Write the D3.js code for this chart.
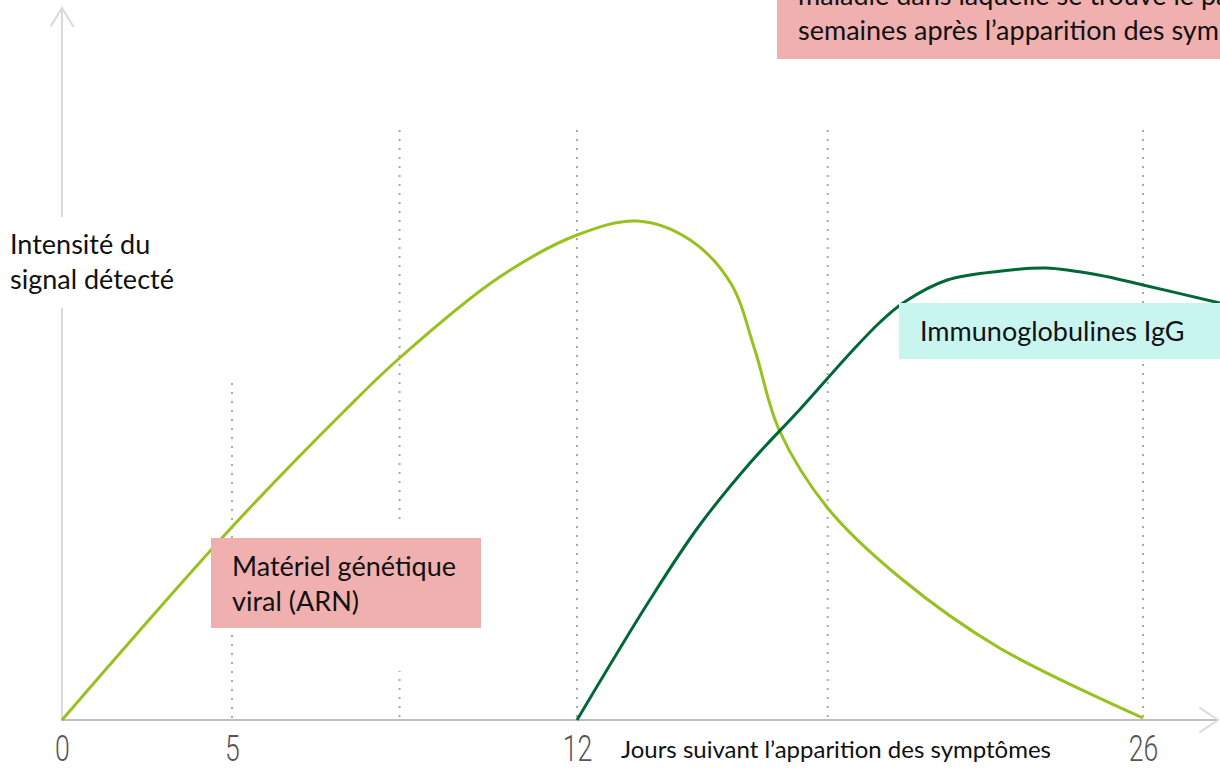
<!DOCTYPE html>
<html>
<head>
<meta charset="utf-8">
<script src="https://cdn.jsdelivr.net/npm/d3@7"></script>
<style>
  html, body { margin: 0; padding: 0; background: #fff; }
  svg { display: block; }
  .lbl { font-family: Lato, "Open Sans", sans-serif; font-size: 27px; fill: #111; }
  .lbl.small { font-size: 24px; }
</style>
</head>
<body>
<svg id="chart" width="1220" height="770"></svg>
<script>
// days after symptoms -> signal intensity (0..100)
const arnDays = [0, 5, 7.3, 8.4, 10.4, 12, 13.5, 14.8, 15.8, 16.4, 17, 18.2, 20, 22.45, 26];
const arnValues = [0, 38.6, 62, 72.4, 88.4, 97, 99.8, 96, 87.4, 74, 58, 42.4, 28.4, 14.4, 0.4];

const iggDays = [12, 13.8, 15, 16.3, 17.5, 18.76, 19.5, 20.1, 21.16, 22.5, 23.6, 24.9, 26, 27.9];
const iggValues = [0, 24, 38.6, 51.6, 62, 73.4, 79.6, 83.6, 88, 89.8, 90.4, 89, 87, 83.4];

const tickDays = [0, 5, 12, 26];
const gridDays = [5, 8.4, 12, 18.2, 26];
const gridTop = [67.4, 118, 118, 118, 118];

const svg = d3.select("#chart");

// the day axis is not uniform in the original, so use a piecewise scale
const x = d3.scaleLinear().domain([0, 5, 12, 26]).range([62, 232, 577, 1143]);
const y = d3.scaleLinear().domain([0, 100]).range([720, 220]);

// dotted guides
svg.selectAll(".grid").data(gridDays).enter().append("line")
    .attr("x1", d => x(d)).attr("x2", d => x(d))
    .attr("y1", (d, i) => y(gridTop[i])).attr("y2", y(0))
    .attr("stroke", "#aaa").attr("stroke-width", 2)
    .attr("stroke-dasharray", "2 7");

// axes
const ax = svg.append("g").attr("fill", "none").attr("stroke-linecap", "round");
ax.append("line").attr("x1", x(0)).attr("x2", x(0)).attr("y1", y(0)).attr("y2", 8)
    .attr("stroke", "#d9d9d9").attr("stroke-width", 2);
ax.append("polyline").attr("points", [[x(0) - 11, 26], [x(0), 8], [x(0) + 11, 26]].join(" "))
    .attr("stroke", "#d9d9d9").attr("stroke-width", 2);
ax.append("line").attr("x1", x(0)).attr("x2", 1218).attr("y1", y(0)).attr("y2", y(0))
    .attr("stroke", "#bfbfbf").attr("stroke-width", 2);
ax.append("polyline").attr("points", [[1200, 708], [1218, 720], [1200, 732]].join(" "))
    .attr("stroke", "#d9d9d9").attr("stroke-width", 2);

// white text boxes hiding parts of the guides
svg.append("rect").attr("x", 0).attr("y", 217).attr("width", 185).attr("height", 91).attr("fill", "#fff");
svg.append("rect").attr("x", 300).attr("y", 521).attr("width", 180).attr("height", 150).attr("fill", "#fff");

const line = d3.line()
    .x(d => x(d[0]))
    .y(d => y(d[1]))
    .curve(d3.curveCatmullRom.alpha(0.5));

svg.append("path")
    .datum(d3.zip(arnDays, arnValues))
    .attr("d", line)
    .attr("fill", "none").attr("stroke", "#96c11f").attr("stroke-width", 3);

svg.append("path")
    .datum(d3.zip(iggDays, iggValues))
    .attr("d", line)
    .attr("fill", "none").attr("stroke", "#006837").attr("stroke-width", 3);

// tick labels
const xAxis = d3.axisBottom(x).tickValues(tickDays).tickSize(0).tickPadding(15).tickFormat(d3.format("d"));
const gx = svg.append("g").attr("transform", `translate(0,${y(0)})`).call(xAxis);
gx.select(".domain").remove();
gx.selectAll("text")
    .attr("font-family", "Roboto, 'DejaVu Sans', sans-serif")
    .attr("font-weight", 300)
    .attr("font-size", 37)
    .attr("fill", "#555")
    .attr("transform", "scale(0.72,1)");

// annotation boxes
svg.append("rect").attr("x", 211).attr("y", 538).attr("width", 270).attr("height", 90).attr("fill", "#f0b0b0");
svg.append("text").attr("class", "lbl").attr("x", 232).attr("y", 576).text("Matériel génétique");
svg.append("text").attr("class", "lbl").attr("x", 232).attr("y", 611).text("viral (ARN)");

svg.append("rect").attr("x", 899).attr("y", 303).attr("width", 330).attr("height", 56).attr("fill", "#c8f5f0");
svg.append("text").attr("class", "lbl").attr("x", 920).attr("y", 341).text("Immunoglobulines IgG");

// top box runs past the edges of the picture, as in the original
svg.append("rect").attr("x", 777).attr("y", -40).attr("width", 460).attr("height", 99).attr("fill", "#f0b0b0");
svg.append("text").attr("class", "lbl").attr("x", 798).attr("y", 5).text("maladie dans laquelle se trouve le patient");
svg.append("text").attr("class", "lbl").attr("x", 798).attr("y", 40).text("semaines après l’apparition des symptômes");

// axis titles
svg.append("text").attr("class", "lbl").attr("x", 10).attr("y", 254).text("Intensité du");
svg.append("text").attr("class", "lbl").attr("x", 10).attr("y", 289).text("signal détecté");
svg.append("text").attr("class", "lbl small").attr("x", 621).attr("y", 758).text("Jours suivant l’apparition des symptômes");
</script>
</body>
</html>
